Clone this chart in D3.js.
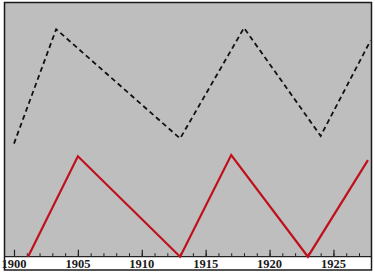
<!DOCTYPE html>
<html>
<head>
<meta charset="utf-8">
<script src="https://cdn.jsdelivr.net/npm/d3@7/dist/d3.min.js"></script>
<style>
  html, body { margin: 0; padding: 0; background: #fff; }
  svg { display: block; }
</style>
</head>
<body>
<svg id="chart" width="375" height="276"></svg>
<script>
// Data
const redYears   = [1901.1, 1905, 1913, 1917, 1923, 1927.7];
const redValues  = [0, 39.5, 0, 40, 0, 38];
const dashYears  = [1900, 1903.3, 1913, 1918, 1924, 1927.9];
const dashValues = [44.5, 89.5, 46.5, 90, 47.5, 85];
const tickLabels = [1900, 1905, 1910, 1915, 1920, 1925];
const minorTicks = d3.range(1900, 1928);

const svg = d3.select("#chart");
const frame = { left: 4.5, right: 371.5, top: 2.5, bottom: 270, axisY: 256.7 };

const x = d3.scaleLinear().domain([1900, 1927]).range([14, 359]);
const y = d3.scaleLinear().domain([0, 100]).range([frame.axisY, frame.top]);

// gray plotting field
svg.append("rect")
  .attr("x", frame.left).attr("y", frame.top)
  .attr("width", frame.right - frame.left)
  .attr("height", frame.axisY - frame.top)
  .attr("fill", "#bebebe");

// white label strip
svg.append("rect")
  .attr("x", frame.left).attr("y", frame.axisY)
  .attr("width", frame.right - frame.left)
  .attr("height", frame.bottom - frame.axisY)
  .attr("fill", "#ffffff");

// axis with minor ticks
const minorAxis = d3.axisTop(x).tickValues(minorTicks).tickSize(3.5).tickFormat("");
const gMinor = svg.append("g").attr("transform", `translate(0,${frame.axisY})`).call(minorAxis);
gMinor.select(".domain").remove();
gMinor.selectAll(".tick line").attr("stroke", "#222").attr("stroke-width", 1);

const majorAxis = d3.axisTop(x).tickValues(tickLabels).tickSize(7).tickFormat("");
const gMajor = svg.append("g").attr("transform", `translate(0,${frame.axisY})`).call(majorAxis);
gMajor.select(".domain").remove();
gMajor.selectAll(".tick line").attr("stroke", "#222").attr("stroke-width", 1.2);

// labels
svg.append("g").selectAll("text")
  .data(tickLabels)
  .join("text")
  .attr("x", d => x(d))
  .attr("y", 268)
  .attr("text-anchor", "middle")
  .attr("font-family", "'Liberation Serif', 'DejaVu Serif', serif")
  .attr("font-size", 12.5)
  .attr("font-weight", "bold")
  .attr("fill", "#1a1a1a")
  .text(d => d);

// axis line
svg.append("line")
  .attr("x1", frame.left).attr("x2", frame.right)
  .attr("y1", frame.axisY).attr("y2", frame.axisY)
  .attr("stroke", "#222").attr("stroke-width", 1.3);

const line = d3.line().x(d => x(d[0])).y(d => y(d[1]));

// dashed black series
svg.append("path")
  .datum(d3.zip(dashYears, dashValues))
  .attr("d", line)
  .attr("fill", "none")
  .attr("stroke", "#111")
  .attr("stroke-width", 1.8)
  .attr("stroke-dasharray", "5,3.5");

// red series
svg.append("path")
  .datum(d3.zip(redYears, redValues))
  .attr("d", line)
  .attr("fill", "none")
  .attr("stroke", "#c0101c")
  .attr("stroke-width", 2.2)
  .attr("stroke-linejoin", "miter");

// outer frame
svg.append("rect")
  .attr("x", frame.left).attr("y", frame.top)
  .attr("width", frame.right - frame.left)
  .attr("height", frame.bottom - frame.top)
  .attr("fill", "none")
  .attr("stroke", "#1a1a1a")
  .attr("stroke-width", 1.5);
</script>
</body>
</html>
